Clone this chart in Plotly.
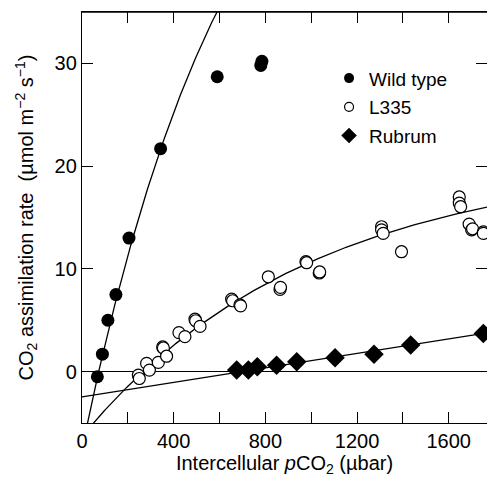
import numpy as np
import plotly.graph_objects as go

# ---- data ----
wt_x = [67, 89, 113, 148, 205, 343, 590, 780, 785]
wt_y = [-0.5, 1.7, 5.0, 7.5, 13.0, 21.7, 28.7, 29.8, 30.2]

l335_x = [246, 250, 282, 294, 333, 352, 355, 369, 423, 449, 493, 496, 515,
          653, 657, 689, 692, 813, 864, 866, 977, 980, 1035, 1037,
          1307, 1307, 1314, 1394, 1646, 1646, 1652, 1689, 1700, 1704, 1751, 1751]
l335_y = [-0.34, -0.67, 0.8, 0.15, 0.9, 2.4, 2.3, 1.5, 3.8, 3.4, 5.1, 4.95, 4.4,
          7.06, 6.9, 6.5, 6.4, 9.23, 8.0, 8.2, 10.7, 10.6, 9.6, 9.7,
          14.1, 13.8, 13.45, 11.67, 17.0, 16.4, 16.05, 14.36, 13.8, 13.9, 13.6, 13.45]

rub_x = [675, 726, 765, 849, 937, 1104, 1274, 1434, 1751]
rub_y = [0.15, 0.15, 0.47, 0.63, 0.95, 1.35, 1.7, 2.58, 3.72]

series_names = ["Wild type", "L335", "Rubrum"]
x_tickvals = [0, 200, 400, 600, 800, 1000, 1200, 1400, 1600]
x_ticktext = ["0", "", "400", "", "800", "", "1200", "", "1600"]
y_tickvals = [0, 10, 20, 30]

# fitted-curve parameters (A = a - b*exp(-k*x); rubrum linear)
wt_fit = (65.0, 72.5, 0.0015)
l335_fit = (20.6, 26.9, 0.0010)
rub_fit = (-2.45, 0.00352)

X_MAX = 1767
xc = np.linspace(0, X_MAX, 400)
wt_c = wt_fit[0] - wt_fit[1] * np.exp(-wt_fit[2] * xc)
l335_c = l335_fit[0] - l335_fit[1] * np.exp(-l335_fit[2] * xc)
rub_c = rub_fit[0] + rub_fit[1] * xc

FONT = "Liberation Sans, Arial, Helvetica, sans-serif"
LW = 1.3

styles = [
    dict(symbol="circle", color="black"),
    dict(symbol="circle", color="white", line=dict(color="black", width=1.2)),
    dict(symbol="diamond", color="black"),
]
data_sizes = [13, 12, 15]
legend_sizes = [10, 9, 12]

fig = go.Figure()
for yc in (wt_c, l335_c, rub_c):
    fig.add_trace(go.Scatter(x=xc, y=yc, mode="lines", line=dict(color="black", width=LW),
                             showlegend=False, hoverinfo="skip"))

for name, xs, ys, st, sz in zip(series_names, [wt_x, l335_x, rub_x], [wt_y, l335_y, rub_y],
                                styles, data_sizes):
    fig.add_trace(go.Scatter(x=xs, y=ys, mode="markers", name=name, legendgroup=name,
                             showlegend=False, marker=dict(size=sz, **st)))
# legend entries (no data; smaller legend symbols as in the reference)
for name, st, sz in zip(series_names, styles, legend_sizes):
    fig.add_trace(go.Scatter(x=[None], y=[None], mode="markers", name=name, legendgroup=name,
                             showlegend=True, marker=dict(size=sz, **st)))

fig.update_layout(
    width=487, height=481,
    margin=dict(l=82, r=0, t=12, b=58),
    paper_bgcolor="white", plot_bgcolor="white",
    font=dict(family=FONT, size=20, color="black"),
    showlegend=True,
    legend=dict(x=0.61, y=0.885, xanchor="left", yanchor="top",
                font=dict(size=19), bgcolor="rgba(0,0,0,0)",
                itemsizing="trace", tracegroupgap=1),
    xaxis=dict(range=[0, X_MAX], tickmode="array", tickvals=x_tickvals, ticktext=x_ticktext,
               ticks="inside", ticklen=11, tickwidth=LW, tickcolor="black",
               showline=True, linecolor="black", linewidth=LW, mirror="ticks",
               showgrid=False, zeroline=False, tickfont=dict(size=20),
               title=dict(text="Intercellular <i>p</i>CO<sub>2</sub> (µbar)",
                          font=dict(size=20), standoff=3)),
    yaxis=dict(range=[-5, 35], tickmode="array", tickvals=y_tickvals,
               ticks="inside", ticklen=11, tickwidth=LW, tickcolor="black",
               showline=True, linecolor="black", linewidth=LW, mirror="ticks",
               showgrid=False, zeroline=True, zerolinecolor="black", zerolinewidth=LW,
               tickfont=dict(size=20),
               title=dict(text="CO<sub>2</sub> assimilation rate\u00a0 (µmol m<sup>−2</sup> s<sup>−1</sup>)",
                          font=dict(size=20), standoff=15)),
    shapes=[dict(type="line", xref="paper", yref="paper", x0=0, x1=1, y0=1, y1=1,
                 line=dict(color="black", width=LW))],
)

fig.write_html("out.html", config={"displayModeBar": False},
               post_script="document.body.style.margin='0';document.body.style.overflow='hidden';")
